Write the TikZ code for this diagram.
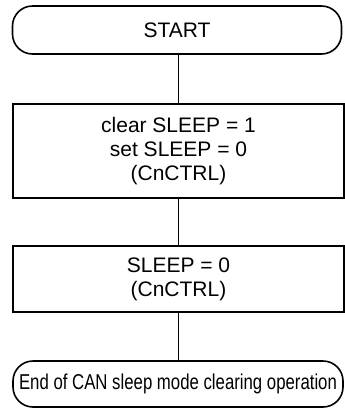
\documentclass[tikz,border=0pt]{standalone}
\usepackage{fontspec}
\setmainfont{Liberation Sans}
\newfontfamily\narrowsans[FakeStretch=0.78]{Liberation Sans}
\usetikzlibrary{positioning}

\begin{document}
\begin{tikzpicture}[x=1bp, y=-1bp, every node/.style={font=\fontsize{21bp}{24bp}\selectfont, align=center, inner sep=0pt},
	term/.style={draw, line width=1.6bp, rounded corners=20bp, minimum height=48bp},
	proc/.style={draw, line width=1.6bp, minimum width=331bp}]
	\useasboundingbox (0,0) rectangle (345,411);
	\node[term, minimum width=329bp] (start) at (177,30) {START};
	\node[proc, minimum height=94bp] (clr) at (178.5,151) {clear SLEEP = 1\\set SLEEP = 0\\(CnCTRL)};
	\node[proc, minimum height=66bp] (slp) at (178.5,279) {SLEEP = 0\\(CnCTRL)};
	\node[term, minimum width=330bp, minimum height=46bp, font=\narrowsans\fontsize{21.5bp}{24bp}\selectfont] (end) at (178,384) {End of CAN sleep mode clearing operation};
	\draw[line width=0.8bp] (clr.north |- start.south) -- (clr.north);
	\draw[line width=0.8bp] (clr) -- (slp);
	\draw[line width=0.8bp] (slp.south) -- (slp.south |- end.north);
\end{tikzpicture}
\end{document}
